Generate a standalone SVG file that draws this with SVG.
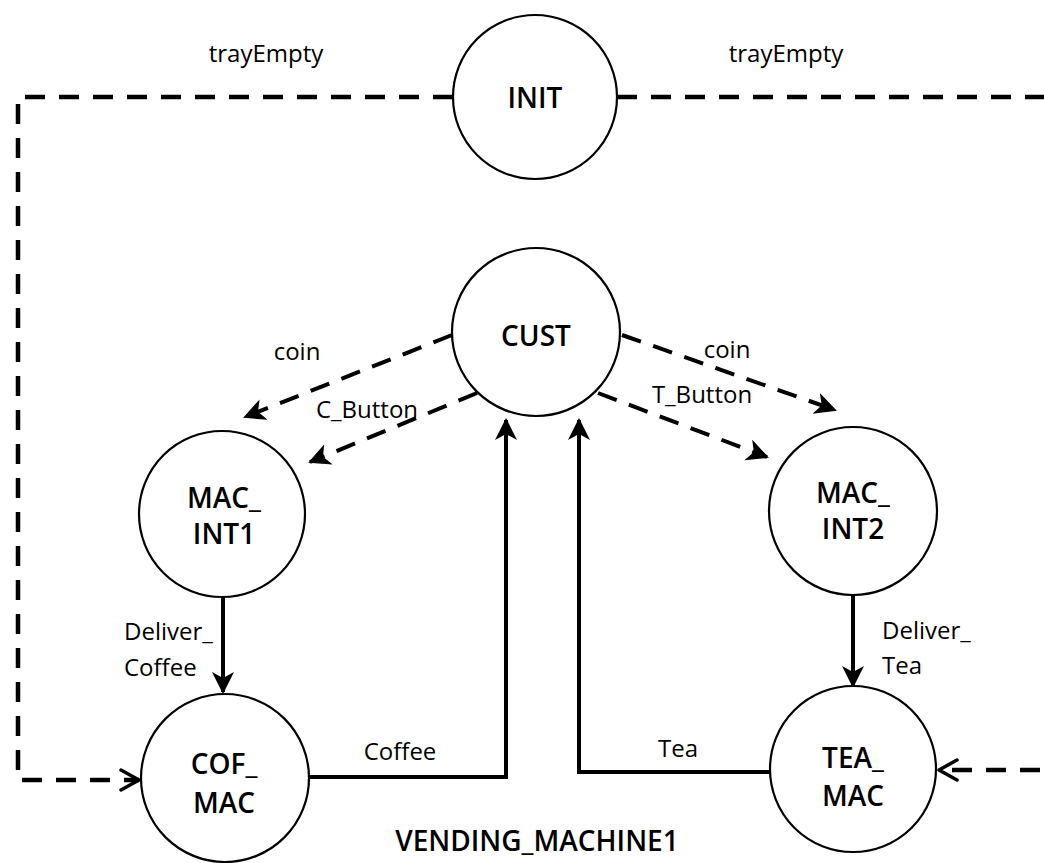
<svg xmlns="http://www.w3.org/2000/svg" width="1044" height="863" viewBox="0 0 1044 863">
  <style>
    .state { fill: #ffffff; stroke: #000000; stroke-width: 2.2; }
    .name { font-family: "Open Sans", "Liberation Sans", sans-serif; font-size: 28px; font-weight: 600; fill: #000000; text-anchor: middle; dominant-baseline: central; }
    .lbl { font-family: "Open Sans", "Liberation Sans", sans-serif; font-size: 24px; fill: #000000; dominant-baseline: central; }
    .mid { text-anchor: middle; }
    .dash { fill: none; stroke: #000000; stroke-width: 4.5; stroke-dasharray: 20 14; }
    .dash2 { fill: none; stroke: #000000; stroke-width: 4; stroke-dasharray: 20 13; }
    .solid { fill: none; stroke: #000000; stroke-width: 4; }
  </style>
  <defs>
    <marker id="barb" markerUnits="userSpaceOnUse" markerWidth="24" markerHeight="24" refX="20" refY="11" orient="auto">
      <path d="M0,0 L22,11 L0,22 L6,11 Z" fill="#000000"/>
    </marker>
    <marker id="chev" markerUnits="userSpaceOnUse" markerWidth="26" markerHeight="26" refX="21" refY="12" orient="auto">
      <path d="M3,2 L21,12 L3,22" fill="none" stroke="#000000" stroke-width="3.5" stroke-linecap="round" stroke-linejoin="round"/>
    </marker>
  </defs>

  <!-- transitions -->
  <g id="connectors">
    <path class="dash" d="M453,97 H18 V780 H139" marker-end="url(#chev)"/>
    <path class="dash" d="M617,97 H1070 V770 H939" marker-end="url(#chev)"/>
    <path class="dash2" d="M452,335 L245,417" marker-end="url(#barb)"/>
    <path class="dash2" d="M477,393 L310,462" marker-end="url(#barb)"/>
    <path class="dash2" d="M622,335 L835,410" marker-end="url(#barb)"/>
    <path class="dash2" d="M598,393 L767,457" marker-end="url(#barb)"/>
    <path class="solid" d="M223,597 V692" marker-end="url(#barb)"/>
    <path class="solid" d="M853,595 V686" marker-end="url(#barb)"/>
    <path class="solid" d="M309,777 H506 V420" marker-end="url(#barb)"/>
    <path class="solid" d="M770,772 H579 V420" marker-end="url(#barb)"/>

    <text class="lbl mid" x="266" y="52">trayEmpty</text>
    <text class="lbl mid" x="786" y="52">trayEmpty</text>
    <text class="lbl mid" x="297" y="350">coin</text>
    <text class="lbl mid" x="367" y="408">C_Button</text>
    <text class="lbl mid" x="727" y="348">coin</text>
    <text class="lbl mid" x="702" y="393">T_Button</text>
    <text class="lbl" x="124" y="630">Deliver_</text>
    <text class="lbl" x="124" y="666">Coffee</text>
    <text class="lbl" x="882" y="629">Deliver_</text>
    <text class="lbl" x="882" y="664">Tea</text>
    <text class="lbl mid" x="400" y="750">Coffee</text>
    <text class="lbl mid" x="678" y="747">Tea</text>
  </g>

  <g id="INIT">
    <circle class="state" cx="535" cy="97" r="82"/>
    <text class="name" x="535" y="97">INIT</text>
  </g>
  <g id="CUST">
    <circle class="state" cx="536" cy="332" r="84"/>
    <text class="name" x="536" y="335">CUST</text>
  </g>
  <g id="MAC_INT1">
    <circle class="state" cx="222" cy="514" r="83"/>
    <text class="name" x="224" y="497">MAC_</text>
    <text class="name" x="224" y="533">INT1</text>
  </g>
  <g id="MAC_INT2">
    <circle class="state" cx="853" cy="511" r="84"/>
    <text class="name" x="853" y="492">MAC_</text>
    <text class="name" x="853" y="528">INT2</text>
  </g>
  <g id="COF_MAC">
    <circle class="state" cx="225" cy="778" r="84"/>
    <text class="name" x="224" y="763">COF_</text>
    <text class="name" x="224" y="802">MAC</text>
  </g>
  <g id="TEA_MAC">
    <circle class="state" cx="853" cy="769" r="83"/>
    <text class="name" x="853" y="757">TEA_</text>
    <text class="name" x="853" y="795">MAC</text>
  </g>

  <text class="name" x="537" y="840">VENDING_MACHINE1</text>
</svg>
